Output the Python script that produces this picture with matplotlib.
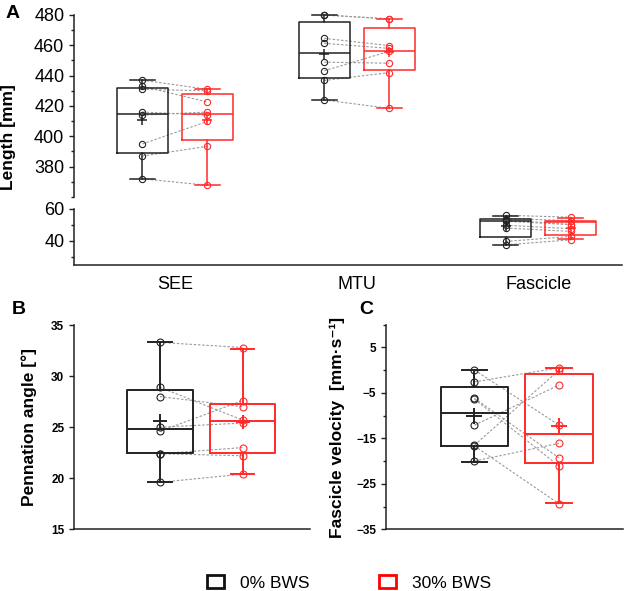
import matplotlib
matplotlib.use('Agg')
import matplotlib.pyplot as plt
from matplotlib.patches import Patch
from matplotlib.ticker import MultipleLocator

plt.rcParams['font.family'] = ['Liberation Sans', 'DejaVu Sans']

# ---- data ----
# Panel A : individual subjects (0% BWS, 30% BWS), paired by index
see_0 = [437, 433, 431, 416, 414, 395, 387, 372]
see_30 = [431, 422.6, 430, 414, 416, 409.8, 393.4, 367.7]
mtu_0 = [480, 480, 464.6, 461.3, 448.9, 443.2, 436.8, 424]
mtu_30 = [477.4, 477.4, 459.8, 458, 448.2, 456, 442, 418.4]
fas_0 = [55.8, 53.8, 53.0, 52.1, 49.6, 47.9, 39.6, 37.5]
fas_30 = [54.6, 52.5, 50.0, 50.0, 47.5, 45.8, 42.7, 40.6]

# box stats: [whisker low, q1, median, q3, whisker high, mean]
see_box_0 = [372, 389, 414.6, 432, 437.2, 410.5]
see_box_30 = [367.7, 397.8, 414.6, 427.8, 431, 410.5]
mtu_box_0 = [424, 438.3, 455.2, 475.2, 480, 454.5]
mtu_box_30 = [418.4, 443.8, 456.5, 471.4, 477.4, 455.9]
fas_box_0 = [37.5, 42.1, 52.1, 53.8, 55.2, 49.0]
fas_box_30 = [41.0, 43.3, 51.8, 52.1, 54.2, 47.9]
groups_a = ['SEE', 'MTU', 'Fascicle']

# Panel B : pennation angle
pen_0 = [33.3, 28.9, 28.0, 25.0, 24.6, 22.4, 22.4, 19.6]
pen_30 = [32.8, 25.7, 27.0, 25.4, 27.6, 23.0, 22.2, 20.4]
pen_box_0 = [19.64, 22.5, 24.87, 28.66, 33.3, 25.6]
pen_box_30 = [20.4, 22.5, 25.6, 27.3, 32.7, 25.5]

# Panel C : fascicle velocity
vel_0 = [0.0, -2.6, -6.2, -6.4, -12.1, -16.5, -16.7, -20.0]
vel_30 = [-12.1, 0.5, -19.3, -21.1, -3.3, 0.0, -29.4, -16.1]
vel_box_0 = [-20.1, -16.6, -9.37, -3.65, 0.0, -10.1]
vel_box_30 = [-29.3, -20.5, -14.1, -0.9, 0.5, -12.4]

BLACK = '#222222'
RED = '#ff2a2a'
GREY = '#9a9a9a'


def draw_box(ax, pos, st, color, width, capw, lw, cross):
    lo, q1, med, q3, hi, mean = st
    stats = [dict(whislo=lo, q1=q1, med=med, q3=q3, whishi=hi, mean=mean, fliers=[])]
    ax.bxp(stats, positions=[pos], widths=width, capwidths=capw, showmeans=True,
           boxprops=dict(color=color, lw=lw),
           whiskerprops=dict(color=color, lw=lw),
           capprops=dict(color=color, lw=lw),
           medianprops=dict(color=color, lw=lw),
           meanprops=dict(marker='+', markeredgecolor=color, markersize=cross, mew=lw),
           manage_ticks=False, zorder=2)


def draw_pairs(ax, p0, p1, v0, v1, ms):
    for a, b in zip(v0, v1):
        ax.plot([p0, p1], [a, b], color=GREY, ls=(0, (2.2, 1.6)), lw=0.8, zorder=1)
    ax.plot([p0] * len(v0), v0, 'o', mfc='none', mec=BLACK, ms=ms, mew=0.8, zorder=4)
    ax.plot([p1] * len(v1), v1, 'o', mfc='none', mec=RED, ms=ms, mew=0.8, zorder=4)


def style(ax, labelsize, bold):
    for s in ['top', 'right']:
        ax.spines[s].set_visible(False)
    for s in ['left', 'bottom']:
        ax.spines[s].set_linewidth(1.1)
        ax.spines[s].set_color(BLACK)
    ax.tick_params(axis='y', which='major', length=3.5, width=1.0, color=BLACK, labelsize=labelsize)
    ax.tick_params(axis='y', which='minor', length=2.5, width=1.0, color=BLACK)
    ax.tick_params(axis='x', length=0)
    if bold:
        for t in ax.get_yticklabels():
            t.set_fontweight('bold')


fig = plt.figure(figsize=(6.3, 5.91), dpi=100)

# ---- Panel A (broken y axis) ----
# upper part has a little headroom above 480 so the top markers are not cut
axt = fig.add_axes([0.1175, 0.6667, 0.8698, 0.3079 + 6.1 / 591])
axb = fig.add_axes([0.1175, 0.5516, 0.8698, 0.0956])
off = 0.1786
sets_a = [(see_0, see_30, see_box_0, see_box_30),
          (mtu_0, mtu_30, mtu_box_0, mtu_box_30),
          (fas_0, fas_30, fas_box_0, fas_box_30)]
for ax in (axt, axb):
    for i, (v0, v1, b0, b1) in enumerate(sets_a):
        x = i + 1
        draw_box(ax, x - off, b0, BLACK, 0.28, 0.137, 1.1, 7)
        draw_box(ax, x + off, b1, RED, 0.28, 0.137, 1.1, 7)
        draw_pairs(ax, x - off, x + off, v0, v1, 4.5)
    ax.set_xlim(0.445, 3.46)
axt.set_ylim(360, 484)
axt.spines['left'].set_bounds(360, 480)
axb.set_ylim(25, 60)
axt.set_yticks([380, 400, 420, 440, 460, 480])
axt.set_yticks([360, 370, 390, 410, 430, 450, 470], minor=True)
axb.set_yticks([40, 60])
axb.yaxis.set_minor_locator(MultipleLocator(10))
style(axt, 13, False)
style(axb, 13, False)
axt.spines['bottom'].set_visible(False)
axt.set_xticks([])
axb.set_xticks([1, 2, 3])
axb.set_xticklabels(groups_a, fontsize=13)
axb.tick_params(axis='x', pad=8)
fig.text(0.014, 1 - 137 / 591, 'Length [mm]', rotation=90, ha='center', va='center',
         fontsize=12.5, fontweight='bold')
fig.text(0.008, 1 - 14 / 591, 'A', fontsize=14, fontweight='bold', va='center')

# ---- Panel B ----
axB = fig.add_axes([0.1175, 0.1044, 0.3746, 0.3456])
draw_box(axB, 1, pen_box_0, BLACK, 0.79, 0.29, 1.4, 10)
draw_box(axB, 2, pen_box_30, RED, 0.79, 0.29, 1.4, 10)
draw_pairs(axB, 1, 2, pen_0, pen_30, 5)
axB.set_xlim(-0.042, 2.818)
axB.set_ylim(15, 35)
axB.set_yticks([15, 20, 25, 30, 35])
axB.set_xticks([])
style(axB, 8.5, True)
axB.set_ylabel('Pennation angle [°]', fontsize=12.5, fontweight='bold', labelpad=10)
fig.text(0.019, 1 - 310 / 591, 'B', fontsize=14, fontweight='bold', va='center')

# ---- Panel C ----
axC = fig.add_axes([0.6127, 0.1044, 0.3762, 0.3464])
draw_box(axC, 1, vel_box_0, BLACK, 0.80, 0.30, 1.4, 11)
draw_box(axC, 2, vel_box_30, RED, 0.80, 0.30, 1.4, 11)
draw_pairs(axC, 1, 2, vel_0, vel_30, 5)
axC.set_xlim(-0.047, 2.757)
axC.set_ylim(-35, 10)
axC.set_yticks([5, -5, -15, -25, -35])
axC.set_yticks([10, 0, -10, -20, -30], minor=True)
axC.set_xticks([])
style(axC, 8.5, True)
axC.set_ylabel('Fascicle velocity  [mm·s⁻¹]', fontsize=12.5, fontweight='bold', labelpad=8)
fig.text(0.571, 1 - 310 / 591, 'C', fontsize=14, fontweight='bold', va='center')

# ---- legend ----
handles = [Patch(facecolor='white', edgecolor='#111111', lw=2),
           Patch(facecolor='white', edgecolor='red', lw=2)]
fig.legend(handles, ['0% BWS', '30% BWS'], loc='center', bbox_to_anchor=(0.554, 0.014),
           ncol=2, frameon=False, fontsize=12.5, handlelength=1.0, handleheight=0.8,
           columnspacing=4.0, handletextpad=0.9)

fig.savefig('out.png', dpi=100)
